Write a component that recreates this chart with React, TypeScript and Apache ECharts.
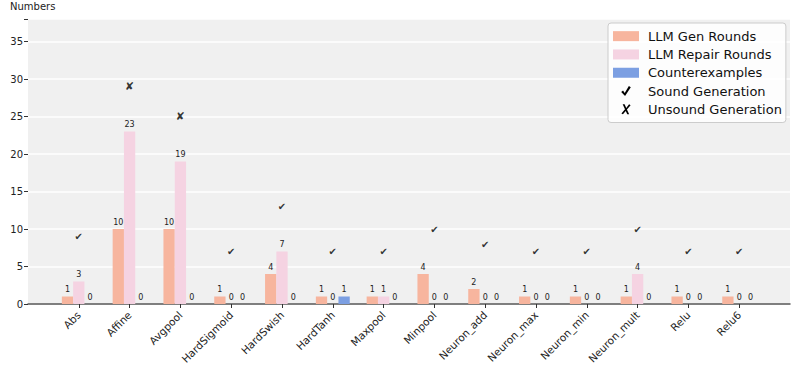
import React, { useEffect, useRef } from "react";
import * as echarts from "echarts";

const categories = [
  "Abs", "Affine", "Avgpool", "HardSigmoid", "HardSwish", "HardTanh", "Maxpool",
  "Minpool", "Neuron_add", "Neuron_max", "Neuron_min", "Neuron_mult", "Relu", "Relu6",
];
const genRounds = [1, 10, 10, 1, 4, 1, 1, 4, 2, 1, 1, 1, 1, 1];
const repairRounds = [3, 23, 19, 0, 7, 0, 1, 0, 0, 0, 0, 4, 0, 0];
const counterexamples = [0, 0, 0, 0, 0, 1, 0, 0, 0, 0, 0, 0, 0, 0];
const sound = [true, false, false, true, true, true, true, true, true, true, true, true, true, true];
const markerOffset = 6;
const yTicks = [0, 5, 10, 15, 20, 25, 30, 35];

const CHECK_PATH = "path://M0,7 L2.2,5.2 L4.2,8.2 L9.2,0 L11.5,1.4 L4.6,12 Z";
const CROSS_PATH =
  "path://M1.5,0 L3.8,0 L5.8,4.4 L9.2,0 L11,1.2 L6.6,6.1 L9.3,12 L7.0,12 L5.2,7.9 L1.8,12 L0,10.9 L4.3,6.0 Z";

export default function App() {
  const ref = useRef<HTMLDivElement>(null);
  useEffect(() => {
    if (!ref.current) return;
    const chart = echarts.init(ref.current, undefined, { renderer: "svg" });
    const xData = ["", ...categories, ""];
    const pad = (arr: number[]) => ["-", ...arr, "-"];
    const font = "DejaVu Sans";
    const barLabel = {
      show: true,
      position: "top" as const,
      distance: 3,
      fontSize: 8,
      color: "#222",
      fontFamily: font,
    };
    const maxOf = (i: number) => Math.max(genRounds[i], repairRounds[i], counterexamples[i]);
    const soundData = categories
      .map((c, i) => (sound[i] ? [c, maxOf(i) + markerOffset] : null))
      .filter((d) => d);
    const unsoundData = categories
      .map((c, i) => (!sound[i] ? [c, maxOf(i) + markerOffset] : null))
      .filter((d) => d);
    const showIdx = (i: number) => i > 0 && i < xData.length - 1;

    chart.setOption({
      animation: false,
      backgroundColor: "#ffffff",
      textStyle: { fontFamily: font },
      grid: { left: 28, right: 7, top: 19, bottom: 70, containLabel: false, show: true, backgroundColor: "#f0f0f0", borderWidth: 0 },
      legend: {
        orient: "vertical",
        left: 608,
        top: 23,
        padding: [4, 4, 4, 5],
        backgroundColor: "rgba(255,255,255,0.85)",
        borderColor: "#cccccc",
        borderWidth: 1,
        borderRadius: 3,
        itemWidth: 26,
        itemHeight: 10,
        itemGap: 0,
        textStyle: { fontSize: 13, color: "#111", fontFamily: font, lineHeight: 18.3, padding: [0, 0, 0, 4] },
        data: [
          { name: "LLM Gen Rounds", icon: "rect" },
          { name: "LLM Repair Rounds", icon: "rect" },
          { name: "Counterexamples", icon: "rect" },
          { name: "Sound Generation", icon: CHECK_PATH, itemStyle: { color: "#000", opacity: 1 } },
          { name: "Unsound Generation", icon: CROSS_PATH, itemStyle: { color: "#000", opacity: 1 } },
        ],
      },
      xAxis: {
        type: "category",
        data: xData,
        boundaryGap: false,
        axisLine: { show: true, lineStyle: { color: "#555", width: 1.5 } },
        axisTick: { show: true, length: 4, interval: (i: number) => showIdx(i), lineStyle: { color: "#333" } },
        axisLabel: {
          interval: (i: number) => showIdx(i),
          rotate: 45,
          fontSize: 10.5,
          color: "#222",
          margin: 9,
          fontFamily: font,
        },
        splitLine: { show: false },
      },
      yAxis: {
        type: "value",
        min: 0,
        max: 38,
        interval: 5,
        name: "Numbers",
        nameLocation: "end",
        nameGap: 8,
        nameTextStyle: { fontSize: 10, color: "#222", fontFamily: font, align: "left", padding: [0, 0, 0, -18] },
        axisLine: { show: false },
        axisTick: { show: true, length: 4, lineStyle: { color: "#333" } },
        axisLabel: {
          fontSize: 10,
          color: "#222",
          margin: 5,
          fontFamily: font,
          formatter: (v: number) => (yTicks.includes(v) ? String(v) : ""),
        },
        splitLine: { show: true, lineStyle: { color: "#ffffff", width: 1.5 } },
      },
      series: [
        {
          name: "LLM Gen Rounds",
          type: "bar",
          data: pad(genRounds),
          barWidth: 11.3,
          barGap: "0%",
          itemStyle: { color: "#f7b59e" },
          label: barLabel,
        },
        {
          name: "LLM Repair Rounds",
          type: "bar",
          data: pad(repairRounds),
          barWidth: 11.3,
          barGap: "0%",
          itemStyle: { color: "#f5d3e2" },
          label: barLabel,
        },
        {
          name: "Counterexamples",
          type: "bar",
          data: pad(counterexamples),
          barWidth: 11.3,
          barGap: "0%",
          itemStyle: { color: "#7c9fe2" },
          label: barLabel,
        },
        {
          name: "Sound Generation",
          type: "scatter",
          data: soundData,
          symbolSize: 1,
          itemStyle: { color: "rgba(0,0,0,0)" },
          label: { show: true, position: "inside", formatter: () => "\u2714", fontSize: 10, color: "#000", fontFamily: font },
        },
        {
          name: "Unsound Generation",
          type: "scatter",
          data: unsoundData,
          symbolSize: 1,
          itemStyle: { color: "rgba(0,0,0,0)" },
          label: { show: true, position: "inside", formatter: () => "\u2718", fontSize: 11, color: "#000", fontFamily: font },
        },
      ],
    });
    return () => chart.dispose();
  }, []);
  return <div ref={ref} style={{ width: 797, height: 374, position: "absolute", left: 0, top: 0 }} />;
}
